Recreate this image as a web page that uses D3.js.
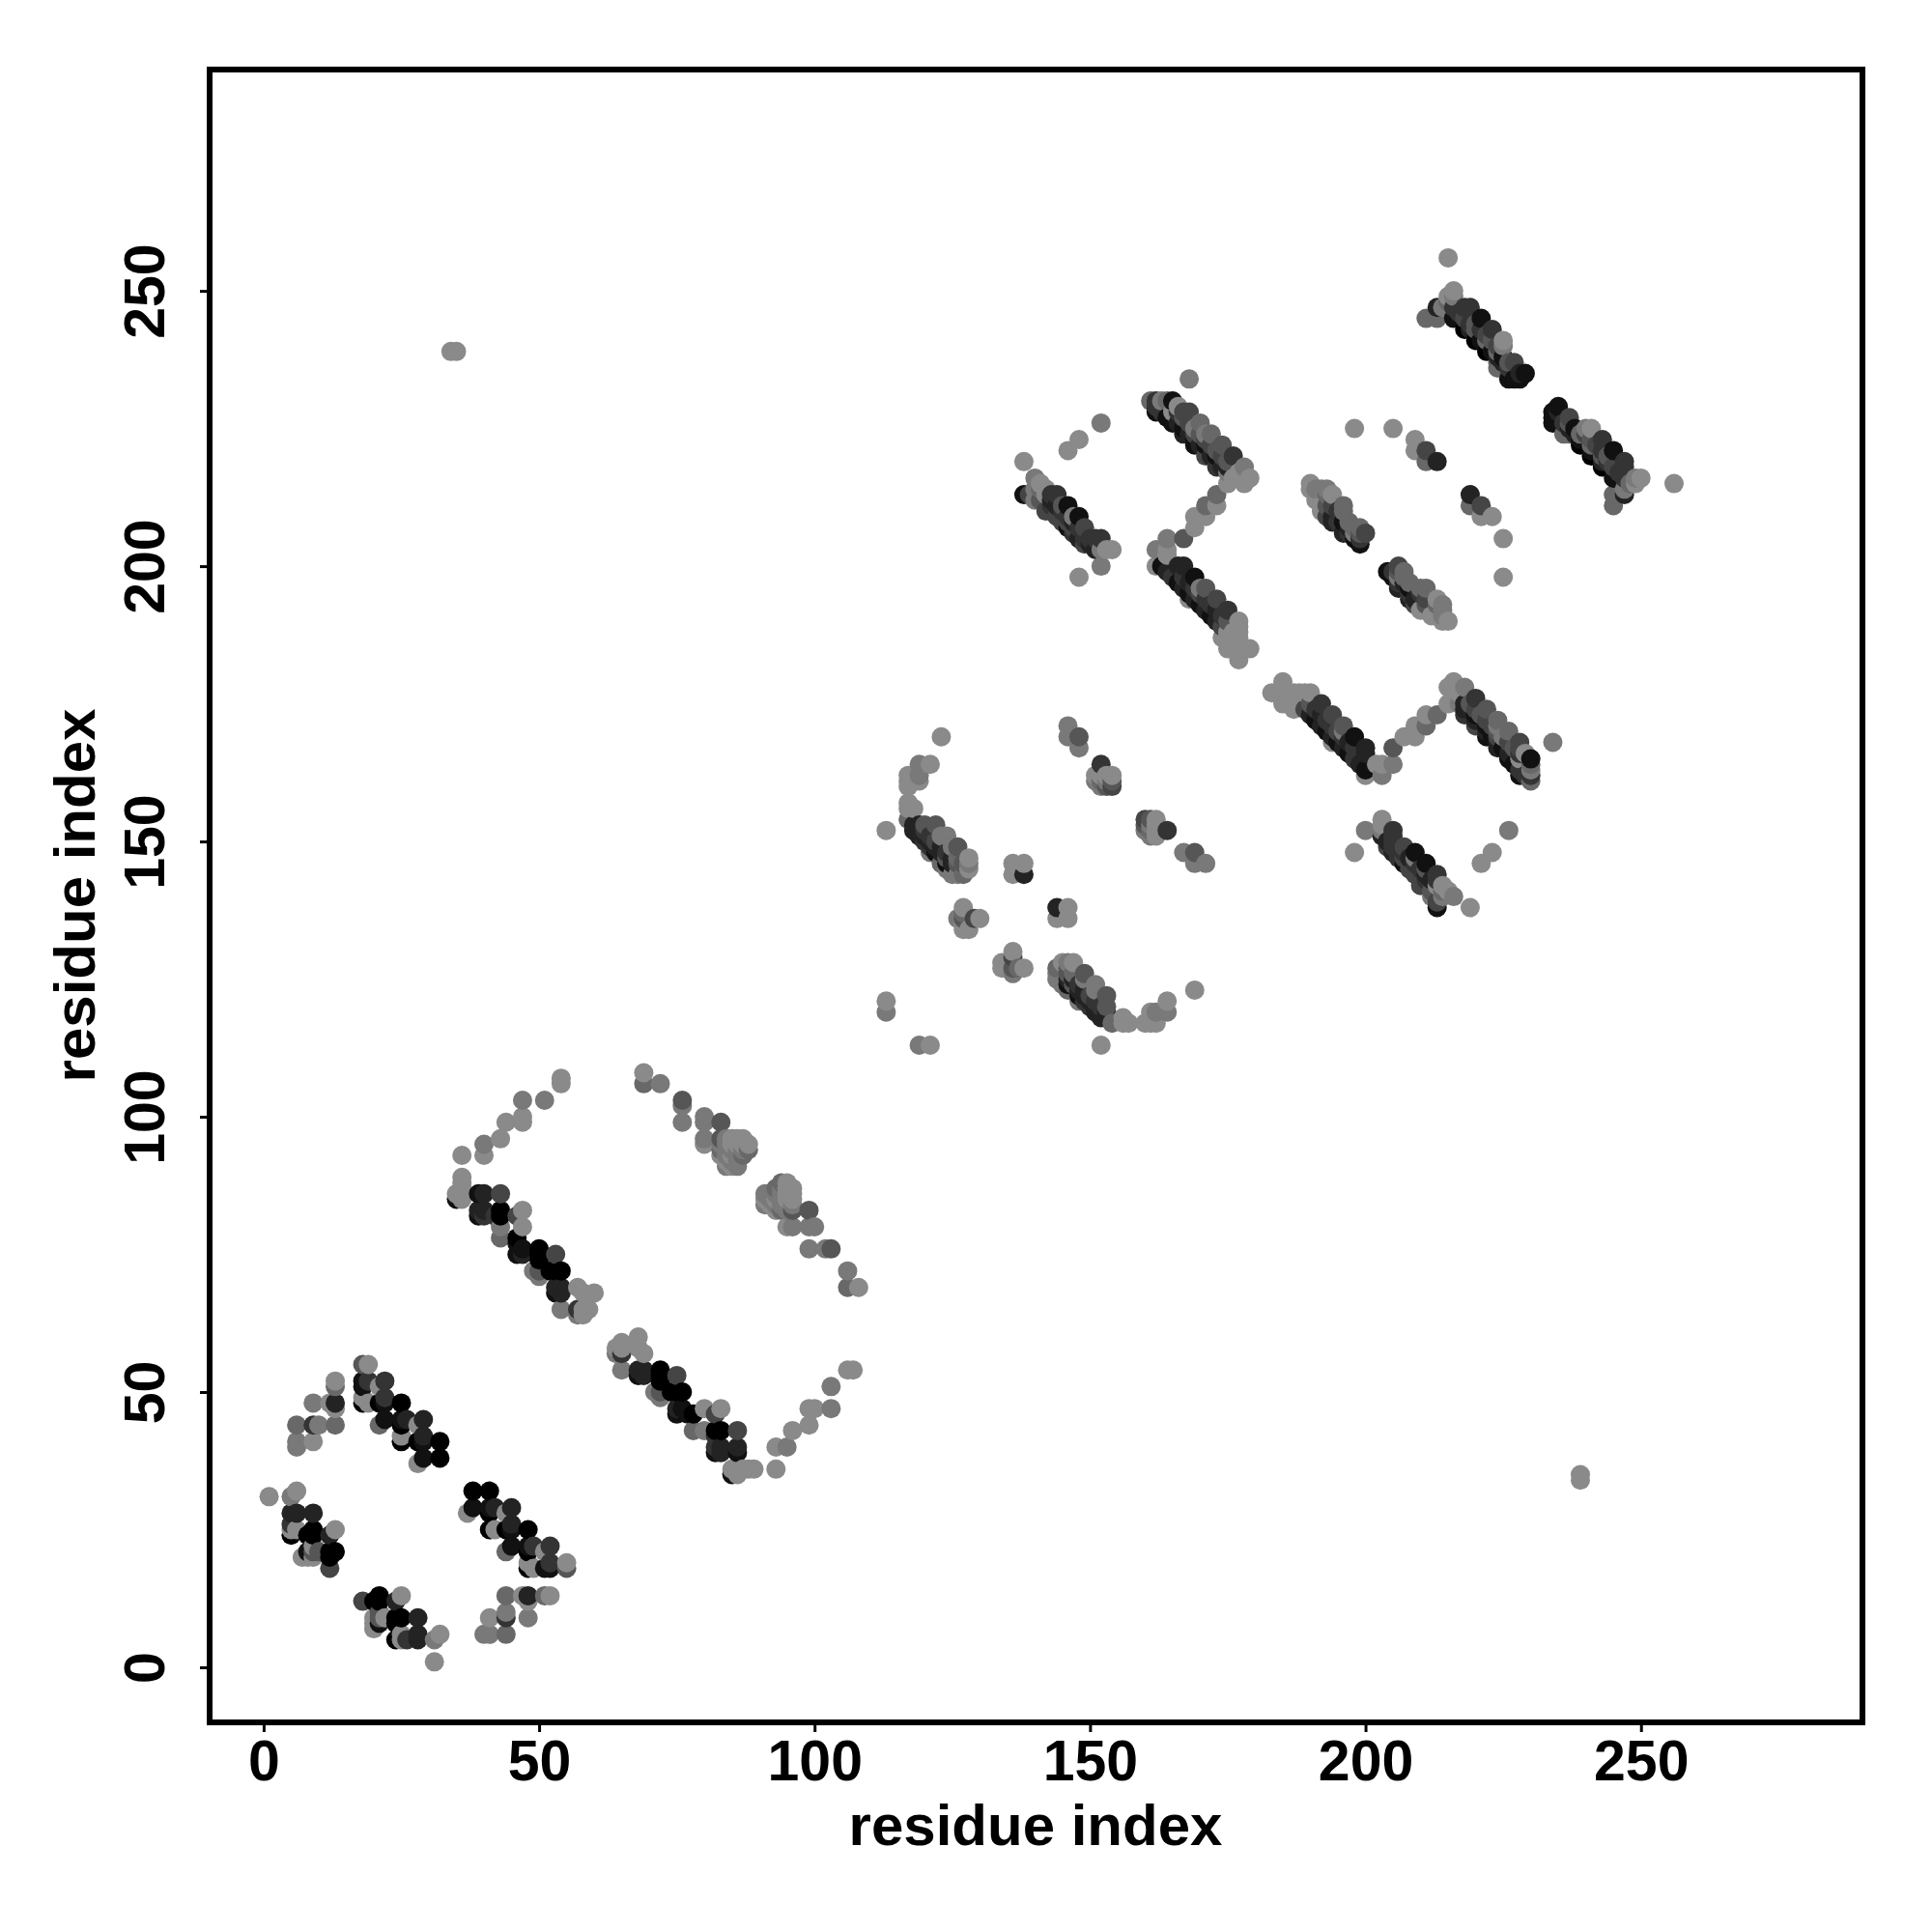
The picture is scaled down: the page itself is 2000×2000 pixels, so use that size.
<!DOCTYPE html>
<html>
<head>
<meta charset="utf-8">
<style>
html,body{margin:0;padding:0;background:#fff}
svg{display:block}
text{font-family:"Liberation Sans",Arial,sans-serif;font-weight:bold;fill:#000}
</style>
<script src="https://cdn.jsdelivr.net/npm/d3@7/dist/d3.min.js"></script>
</head>
<body>
<svg id="chart" width="2000" height="2000"></svg>
<script>
// Each contact: [residue i, residue j, shade level 0 (black) .. 8 (light grey)]. The map is symmetric.
const xTicks = [0, 50, 100, 150, 200, 250];
const yTicks = [0, 50, 100, 150, 200, 250];
const axisTitle = "residue index";

const sheetA = [[1,31,8],[5,31,7],[6,32,8],[5,28,2],[6,28,2],[9,28,2],[5,26,3],[5,25,8],[6,25,8],[5,24,0],[8,24,0],[9,25,0],[9,24,0],[12,24,2],[13,25,8],[8,21,1],[9,21,5],[10,21,5],[7,20,8],[8,20,8],[9,20,8],[9,22,8],[12,21,0],[13,21,0],[12,20,0],[12,18,4]];
const sheetB = [[18,55,5],[19,55,8],[18,52,1],[19,52,3],[22,52,3],[18,51,1],[21,51,8],[18,49,8],[18,48,0],[19,48,8],[21,48,0],[22,49,3],[22,48,1],[25,48,0],[22,45,1],[21,44,6],[25,45,1],[26,45,2],[25,44,0],[29,45,2],[28,44,8],[25,41,0],[25,42,8],[28,41,0],[29,42,2],[29,41,1],[32,41,0],[29,38,1],[28,37,8],[32,38,0]];
const sheetC = [[13,52,8],[13,51,6],[13,48,2],[12,48,8],[13,47,8],[9,48,7],[6,44,6],[9,44,3],[10,44,7],[13,44,6],[6,41,7],[6,40,7],[9,41,8]];
const arcD = [[54,107,8],[54,106,8],[51,103,7],[47,103,7],[47,100,8],[47,99,8],[44,99,8],[43,96,8],[40,95,7],[40,93,8],[36,93,8],[36,89,8],[36,88,8],[36,87,8],[35,86,8],[35,85,1],[36,85,8]];
const sheetE = [[39,86,1],[40,86,2],[43,86,4],[39,83,2],[40,83,2],[39,82,1],[40,82,3],[43,83,0],[43,82,0],[42,82,3],[43,80,7],[43,78,6],[47,83,8],[47,80,8],[46,82,4],[46,78,0],[46,77,1],[46,75,1],[47,76,1],[47,75,2],[50,76,0],[50,75,0],[50,74,0],[53,75,4],[49,72,7],[50,71,7],[50,72,5],[52,72,0],[53,72,0],[54,72,0],[53,69,2],[53,68,1],[54,69,2],[54,68,2],[57,69,8],[58,68,8],[60,68,8],[54,65,7],[57,65,3],[57,64,7],[58,64,8],[58,65,8],[59,65,8]];
const arcF = [[69,108,8],[69,106,6],[72,106,7],[76,103,5],[76,102,7],[76,99,7],[80,100,7],[80,99,7],[83,99,5],[80,96,7],[80,95,8],[83,96,5],[84,96,7],[85,96,8],[86,96,8],[87,96,8],[83,95,7],[84,95,7],[85,95,8],[86,95,8],[87,95,8],[88,95,8],[83,94,6],[84,94,7],[85,94,7],[86,94,7],[87,94,7],[88,94,6],[83,93,8],[84,93,7],[85,93,8],[86,93,7],[87,93,6],[84,92,8],[85,92,7],[86,92,7],[84,91,7],[85,91,8],[86,91,7]];
const farPair = [[34,239,8],[35,239,8]];
const sheetG = [[113,152,8],[123,169,8],[119,164,7],[121,164,8],[117,162,8],[119,162,7],[119,161,8],[117,161,8],[117,160,8],[117,157,8],[117,156,8],[118,156,8],[117,154,6],[118,153,2],[119,153,2],[120,153,5],[118,152,2],[119,152,2],[120,152,3],[119,151,2],[122,153,5],[120,151,2],[121,151,3],[121,150,2],[120,150,3],[122,150,4],[121,149,3],[122,149,2],[123,151,7],[124,151,7],[121,148,7],[122,148,1],[123,146,6],[126,149,5],[125,149,7],[124,146,1],[123,149,2],[123,148,2],[124,148,3],[124,147,5],[125,147,2],[126,147,6],[125,146,2],[126,146,5],[125,144,7],[126,144,7],[127,144,6],[128,147,8],[128,145,8],[128,146,7],[127,146,5],[124,145,7]];
const looseG = [[136,146,8],[138,146,8],[136,144,8],[138,144,2],[127,138,8],[126,136,7],[127,136,6],[129,136,4],[130,136,8],[127,134,8],[128,134,8],[136,130,8],[136,129,4],[134,128,8],[134,127,8],[136,127,5],[137,127,6],[138,127,8],[135,127,8],[113,121,8],[113,119,7],[119,113,7],[121,113,8]];
const hairpinH = [[146,171,7],[146,169,7],[148,169,5],[148,167,7],[152,164,3],[152,162,8],[151,162,8],[151,161,7],[154,162,8],[154,161,5],[154,160,4],[152,160,7],[153,160,5],[153,161,7],[152,161,6],[153,162,8]];
const sheetI = [[152,226,7],[148,223,8],[146,221,8],[138,219,8],[140,216,7],[141,215,8],[142,214,8],[138,213,1],[139,213,4],[140,212,7],[141,212,5],[143,213,3],[144,213,3],[142,210,4],[143,212,2],[143,211,3],[144,211,2],[145,210,3],[146,211,1],[145,211,5],[146,209,3],[144,209,4],[146,208,4],[148,209,1],[147,209,7],[145,208,4],[147,207,4],[148,207,3],[147,206,3],[146,207,1],[149,207,4],[149,205,3],[150,204,2],[149,204,4],[148,205,2],[150,205,3],[151,205,3],[152,205,3],[151,203,2],[152,203,7],[153,203,8],[154,203,8],[152,200,7],[148,198,8],[147,208,2],[141,214,6],[140,214,7],[142,213,8]];
const bandJ = [[168,234,7],[161,230,6],[162,230,3],[163,230,7],[164,230,6],[165,230,1],[162,229,3],[166,229,8],[164,227,1],[165,228,8],[166,228,3],[167,228,4],[168,228,4],[167,227,5],[165,226,1],[167,225,1],[167,224,2],[168,226,4],[169,224,4],[170,224,5],[169,223,1],[169,222,1],[170,226,6],[171,223,4],[172,222,4],[171,222,1],[172,224,6],[171,220,4],[173,221,5],[173,220,1],[174,220,4],[173,218,3],[174,222,5],[176,220,3],[175,218,2],[175,219,5],[175,217,7],[178,218,7],[177,217,8],[179,216,8],[178,215,8],[175,215,8],[176,216,8],[166,226,2],[168,224,2],[170,222,2],[172,220,2],[174,218,2],[162,228,1],[163,228,3],[169,225,7],[171,224,7]];
const linkK = [[173,213,6],[171,211,6],[173,211,8],[169,209,8],[171,209,8],[169,207,8],[167,205,5],[164,205,7],[162,203,7],[164,203,8],[162,200,8],[164,202,8]];
const bandL = [[166,200,2],[167,200,2],[163,200,1],[164,199,2],[165,198,3],[166,197,1],[167,198,3],[167,196,2],[168,197,2],[169,198,1],[168,195,1],[169,196,3],[169,194,2],[170,195,4],[171,194,3],[171,192,2],[172,193,3],[173,192,2],[173,190,2],[174,191,3],[175,190,5],[171,196,5],[170,196,7],[170,193,1],[173,194,4],[172,191,1],[175,192,3],[168,194,8],[174,189,4],[177,190,8],[177,189,8],[177,188,8],[174,187,8],[175,187,8],[176,187,8],[175,185,8],[176,186,8],[179,185,8],[178,185,8],[177,183,8],[175,188,8],[177,186,8],[176,188,8],[177,187,8],[177,185,8],[176,185,8]];
const bandM = [[190,215,8],[190,214,8],[191,214,7],[191,212,8],[192,214,7],[192,211,8],[192,210,8],[193,214,7],[193,211,5],[193,209,4],[193,213,6],[194,213,8],[194,211,4],[194,208,2],[194,209,2],[195,210,3],[195,208,3],[196,211,6],[196,210,6],[196,208,1],[196,206,2],[197,208,6],[197,207,2],[197,206,3],[198,207,6],[198,206,7],[198,205,1],[199,207,6],[199,205,3],[199,206,5],[199,204,1],[200,206,4]];
const sparseN = [[198,225,8],[205,225,8],[209,223,8],[209,221,8],[211,221,4],[211,219,6],[213,219,2]];
const bandO = [[215,256,8],[216,250,8],[215,249,8],[216,249,7],[215,248,6],[213,247,2],[214,247,7],[211,245,6],[213,245,6],[216,247,3],[217,246,3],[218,247,3],[219,247,3],[218,245,4],[218,243,0],[219,244,3],[219,243,2],[216,245,1],[220,244,5],[221,245,1],[221,243,3],[221,241,1],[220,241,0],[222,242,4],[223,243,3],[223,241,5],[223,239,1],[222,239,0],[224,240,4],[224,238,2],[225,241,8],[225,240,7],[225,238,1],[225,237,2],[224,237,6],[224,236,6],[226,237,5],[227,237,4],[226,236,3],[226,234,1],[227,234,1],[228,234,1],[229,235,1],[228,235,2],[220,243,5],[222,241,6],[224,239,6]];

const contacts = [sheetA, sheetB, sheetC, arcD, sheetE, arcF, farPair, sheetG, looseG, hairpinH, sheetI, bandJ, linkK, bandL, bandM, sparseN, bandO].flat();

// Expand to both triangles and draw in residue order, as the original does.
const seen = new Map();
contacts.forEach(([i, j, s]) => {
  seen.set(i + "," + j, {x: i, y: j, s});
  seen.set(j + "," + i, {x: j, y: i, s});
});
const points = Array.from(seen.values()).sort((a, b) => d3.ascending(a.x, b.x) || d3.ascending(a.y, b.y));

const box = {left: 217, right: 1928, top: 72, bottom: 1783};
const x = d3.scaleLinear().domain([-9.8, 290.2]).range([box.left, box.right]);
const y = d3.scaleLinear().domain([-10, 290.2]).range([box.bottom, box.top]);
const shade = d3.scaleLinear().domain([0, 8]).range(["#000000", "#8a8a8a"]);

const svg = d3.select("#chart");

svg.append("g").selectAll("circle").data(points).join("circle")
  .attr("cx", d => x(d.x))
  .attr("cy", d => y(d.y))
  .attr("r", 10)
  .attr("fill", d => shade(d.s));

svg.append("rect")
  .attr("x", box.left).attr("y", box.top)
  .attr("width", box.right - box.left).attr("height", box.bottom - box.top)
  .attr("fill", "none").attr("stroke", "#000").attr("stroke-width", 6);

const gx = svg.append("g").attr("transform", `translate(0,${box.bottom})`)
  .call(d3.axisBottom(x).tickValues(xTicks).tickSize(10).tickPadding(12).tickSizeOuter(0));
const gy = svg.append("g").attr("transform", `translate(${box.left},0)`)
  .call(d3.axisLeft(y).tickValues(yTicks).tickSize(10).tickPadding(0).tickSizeOuter(0));

[gx, gy].forEach(g => {
  g.select(".domain").remove();
  g.selectAll(".tick line").attr("stroke", "#000").attr("stroke-width", 3);
  g.selectAll(".tick text").style("font-size", "59px").style("font-family", '"Liberation Sans"').style("font-weight", "bold").attr("fill", "#000");
});
gx.selectAll(".tick text").attr("dy", null).attr("y", null)
  .attr("transform", "translate(0,60)").attr("text-anchor", "middle");
gy.selectAll(".tick text").attr("x", null).attr("dy", null)
  .attr("text-anchor", "middle")
  .attr("transform", "translate(-47,0) rotate(-90)");

svg.append("text").attr("x", 1072).attr("y", 1910)
  .attr("text-anchor", "middle").style("font-size", "60px").text(axisTitle);
svg.append("text").attr("transform", "translate(98,927) rotate(-90)")
  .attr("text-anchor", "middle").style("font-size", "60px").text(axisTitle);
</script>
</body>
</html>
